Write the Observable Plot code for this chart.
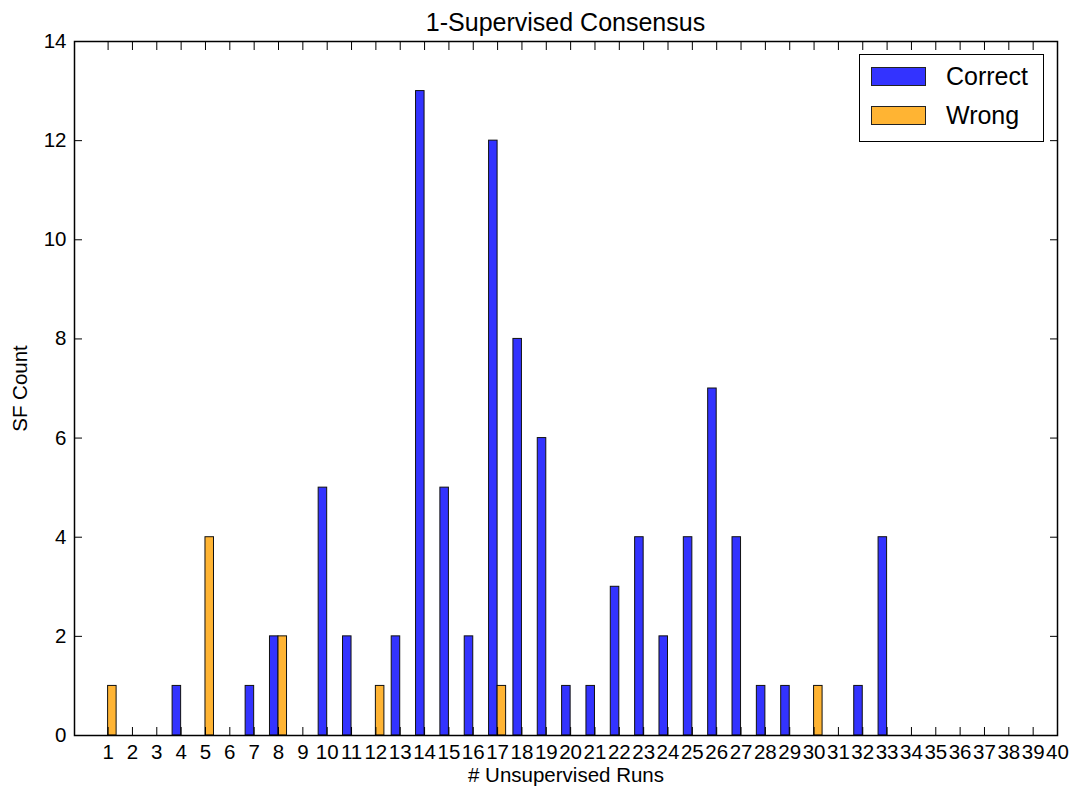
<!DOCTYPE html>
<html><head><meta charset="utf-8">
<script src="https://cdn.jsdelivr.net/npm/d3@7"></script>
<script src="https://cdn.jsdelivr.net/npm/@observablehq/plot@0.6"></script>
<style>
body{margin:0;background:#fff;font-family:"Liberation Sans",Arial,Helvetica,sans-serif}
#wrap{position:relative;width:1070px;height:792px}
#title{height:32px;line-height:32px;padding-top:6px;text-align:center;font-size:25px;color:#000;padding-left:61px;box-sizing:content-box}
#legend{position:absolute;left:859px;top:54px;width:183px;height:86px;border:1.5px solid #000;background:#fff}
.item{position:absolute;left:11px;height:19px;width:55px;border:1px solid #222;box-sizing:border-box}
.lab{position:absolute;left:86px;font-size:25px;line-height:30px;color:#000}
svg{overflow:visible}
</style></head><body>
<div id="wrap">
<div id="title">1-Supervised Consensus</div>
<div id="chart"></div>
<div id="legend"></div>
</div>
<script>
const seriesNames = ["Correct", "Wrong"];
const seriesColors = ["#3333ff", "#ffb433"];
const correctRuns   = [4, 7, 8, 10, 11, 13, 14, 15, 16, 17, 18, 19, 20, 21, 22, 23, 24, 25, 26, 27, 28, 29, 32, 33];
const correctCounts = [1, 1, 2, 5,  2,  2,  13, 5,  2,  12, 8,  6,  1,  1,  3,  4,  2,  4,  7,  4,  1,  1,  1,  4];
const wrongRuns   = [1, 5, 8, 12, 17, 30];
const wrongCounts = [1, 4, 2, 1,  1,  1];
const xTicks = [1,2,3,4,5,6,7,8,9,10,11,12,13,14,15,16,17,18,19,20,21,22,23,24,25,26,27,28,29,30,31,32,33,34,35,36,37,38,39,40];
const yTicks = [0, 2, 4, 6, 8, 10, 12, 14];
const barWidth = 0.35;

const data = [
  ...correctRuns.map((r, i) => ({run: r, count: correctCounts[i], series: "Correct"})),
  ...wrongRuns.map((r, i) => ({run: r, count: wrongCounts[i], series: "Wrong"}))
];

const chart = Plot.plot({
  width: 1070,
  height: 754,
  marginTop: 3,
  marginBottom: 57,
  marginLeft: 74,
  marginRight: 13,
  style: {fontFamily: '"Liberation Sans", Arial, sans-serif', fontSize: "20px", color: "#000", background: "#fff"},
  x: {domain: [-0.38, 40], ticks: xTicks},
  y: {domain: [0, 14], ticks: yTicks},
  color: {domain: seriesNames, range: seriesColors},
  marks: [
    Plot.rectY(data, {
      x1: d => d.series === "Correct" ? d.run - barWidth : d.run,
      x2: d => d.series === "Correct" ? d.run : d.run + barWidth,
      y1: 0, y2: "count",
      fill: "series", stroke: "#111", strokeWidth: 1
    }),
    Plot.frame({stroke: "#000", strokeWidth: 1.5}),
    Plot.axisX(xTicks, {anchor: "bottom", tickSize: 0, tickPadding: 9, fontSize: 20.5, tickFormat: d3.format("d"), label: "# Unsupervised Runs", labelAnchor: "center", labelArrow: "none", labelOffset: 46}),
    Plot.axisX(xTicks, {anchor: "bottom", tickSize: -8, tickFormat: () => "", label: null}),
    Plot.axisX(xTicks, {anchor: "top", tickSize: -8, tickFormat: () => "", label: null}),
    Plot.axisY(yTicks, {anchor: "left", tickSize: 0, tickPadding: 8, fontSize: 20.5, tickFormat: d3.format("d"), label: "SF Count", labelAnchor: "center", labelArrow: "none", labelOffset: 62}),
    Plot.axisY(yTicks, {anchor: "left", tickSize: -8, tickFormat: () => "", label: null}),
    Plot.axisY(yTicks, {anchor: "right", tickSize: -8, tickFormat: () => "", label: null})
  ]
});
document.getElementById("chart").appendChild(chart);

const leg = document.getElementById("legend");
seriesNames.forEach((name, i) => {
  const sw = document.createElement("div");
  sw.className = "item";
  sw.style.top = (12 + i * 39) + "px";
  sw.style.background = seriesColors[i];
  leg.appendChild(sw);
  const t = document.createElement("div");
  t.className = "lab";
  t.style.top = (6 + i * 39) + "px";
  t.textContent = name;
  leg.appendChild(t);
});
</script>
</body></html>
